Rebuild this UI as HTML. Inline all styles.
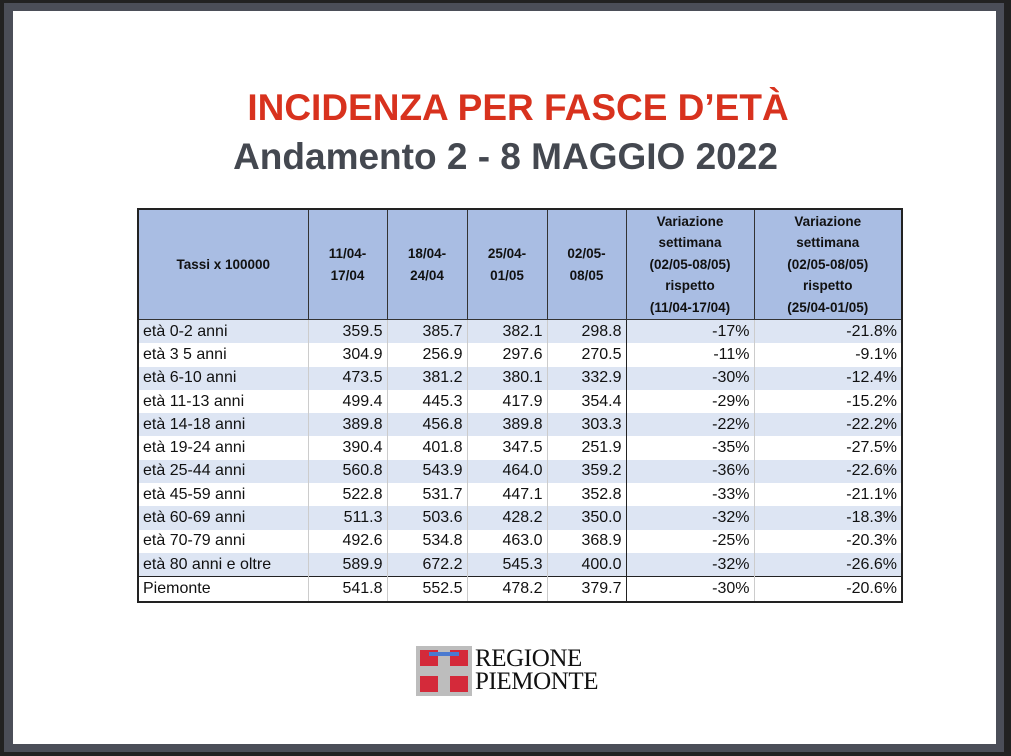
<!DOCTYPE html>
<html><head><meta charset="utf-8"><style>
html,body{margin:0;padding:0;width:1011px;height:756px;overflow:hidden;background:#222;}
#frame{position:absolute;left:4px;top:3px;width:1000px;height:749px;background:#4b4e58;}
#page{position:absolute;left:13px;top:11px;width:983px;height:733px;background:#fff;}
.t1{position:absolute;left:0;width:1036px;top:87px;text-align:center;font:bold 37px "Liberation Sans",sans-serif;color:#d8321e;}
.t2{position:absolute;left:0;width:1011px;top:136px;text-align:center;font:bold 37px "Liberation Sans",sans-serif;color:#444850;}
table{position:absolute;left:137px;top:208px;border-collapse:collapse;font-family:"Liberation Sans",sans-serif;color:#111;border:2px solid #222;}
th{background:#a9bde3;font-size:13.5px;font-weight:bold;border:1px solid #333;height:109px;padding:0;line-height:21.5px;}
td{font-size:16px;height:23.3px;padding:0 4px;text-align:right;border-left:1px solid #ccc;line-height:22px;}
td:first-child{text-align:left;border-left:none;}
td:nth-child(6){border-left:1px solid #222;}
tr.b td{background:#dde5f3;}
tr.p td{border-top:1px solid #222;}
</style></head><body>
<div id="frame"></div><div id="page"></div>
<div class="t1">INCIDENZA PER FASCE D’ETÀ</div>
<div class="t2">Andamento 2 - 8 MAGGIO 2022</div>
<table>
<colgroup><col style="width:170px"><col style="width:79px"><col style="width:80px"><col style="width:80px"><col style="width:79px"><col style="width:128px"><col style="width:148px"></colgroup>
<tr><th>Tassi x 100000</th><th>11/04-<br>17/04</th><th>18/04-<br>24/04</th><th>25/04-<br>01/05</th><th>02/05-<br>08/05</th><th>Variazione<br>settimana<br>(02/05-08/05)<br>rispetto<br>(11/04-17/04)</th><th>Variazione<br>settimana<br>(02/05-08/05)<br>rispetto<br>(25/04-01/05)</th></tr>
<tr class="b"><td>età 0-2 anni</td><td>359.5</td><td>385.7</td><td>382.1</td><td>298.8</td><td>-17%</td><td>-21.8%</td></tr>
<tr><td>età 3 5 anni</td><td>304.9</td><td>256.9</td><td>297.6</td><td>270.5</td><td>-11%</td><td>-9.1%</td></tr>
<tr class="b"><td>età 6-10 anni</td><td>473.5</td><td>381.2</td><td>380.1</td><td>332.9</td><td>-30%</td><td>-12.4%</td></tr>
<tr><td>età 11-13 anni</td><td>499.4</td><td>445.3</td><td>417.9</td><td>354.4</td><td>-29%</td><td>-15.2%</td></tr>
<tr class="b"><td>età 14-18 anni</td><td>389.8</td><td>456.8</td><td>389.8</td><td>303.3</td><td>-22%</td><td>-22.2%</td></tr>
<tr><td>età 19-24 anni</td><td>390.4</td><td>401.8</td><td>347.5</td><td>251.9</td><td>-35%</td><td>-27.5%</td></tr>
<tr class="b"><td>età 25-44 anni</td><td>560.8</td><td>543.9</td><td>464.0</td><td>359.2</td><td>-36%</td><td>-22.6%</td></tr>
<tr><td>età 45-59 anni</td><td>522.8</td><td>531.7</td><td>447.1</td><td>352.8</td><td>-33%</td><td>-21.1%</td></tr>
<tr class="b"><td>età 60-69 anni</td><td>511.3</td><td>503.6</td><td>428.2</td><td>350.0</td><td>-32%</td><td>-18.3%</td></tr>
<tr><td>età 70-79 anni</td><td>492.6</td><td>534.8</td><td>463.0</td><td>368.9</td><td>-25%</td><td>-20.3%</td></tr>
<tr class="b"><td>età 80 anni e oltre</td><td>589.9</td><td>672.2</td><td>545.3</td><td>400.0</td><td>-32%</td><td>-26.6%</td></tr>
<tr class="p"><td>Piemonte</td><td>541.8</td><td>552.5</td><td>478.2</td><td>379.7</td><td>-30%</td><td>-20.6%</td></tr>
</table>
<svg style="position:absolute;left:416px;top:646px" width="56" height="50">
<rect x="0" y="0" width="56" height="50" fill="#bdbdbd"/>
<rect x="4" y="4" width="18" height="16" fill="#d42a3a"/><rect x="34" y="4" width="18" height="16" fill="#d42a3a"/>
<rect x="4" y="30" width="18" height="16" fill="#d42a3a"/><rect x="34" y="30" width="18" height="16" fill="#d42a3a"/>
<rect x="13" y="6" width="30" height="4" fill="#4a7ad0"/>
</svg>
<div style="position:absolute;left:475px;top:647px;font:25px 'Liberation Serif',serif;line-height:23px;color:#111;letter-spacing:-0.4px">REGIONE<br>PIEMONTE</div>
</body></html>
